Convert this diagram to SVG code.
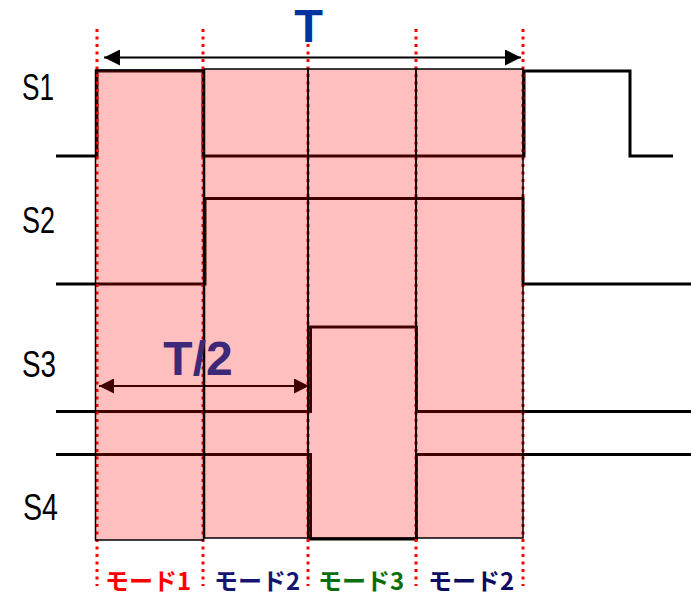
<svg xmlns="http://www.w3.org/2000/svg" width="691" height="597" viewBox="0 0 691 597">
<defs>
<style>
.wave{fill:none;stroke:#000;stroke-width:3;stroke-linejoin:miter}
.col{fill:#ff0000;fill-opacity:0.25;stroke:#000;stroke-width:1.5}
.dot{stroke:#ff0000;stroke-width:3;stroke-dasharray:3 4.5}
.arr{stroke-width:2;fill:none}
.sl{font-family:"Liberation Sans",Arial,sans-serif;font-size:37px;fill:#000}
.mode{font-family:"Noto Sans CJK JP","Liberation Sans",sans-serif;font-size:24px;font-weight:bold;text-anchor:middle}
.big{font-family:"Liberation Sans",Arial,sans-serif;font-weight:bold;text-anchor:middle}
</style>
<marker id="ahk" viewBox="0 0 16 16" refX="16" refY="8" markerWidth="16" markerHeight="16" markerUnits="userSpaceOnUse" orient="auto-start-reverse"><path d="M0,0 L16,8 L0,16 Z" fill="#000"/></marker>
<marker id="ahr" viewBox="0 0 15 15" refX="15" refY="7.5" markerWidth="15" markerHeight="15" markerUnits="userSpaceOnUse" orient="auto-start-reverse"><path d="M0,0 L15,7.5 L0,15 Z" fill="#000"/></marker>
</defs>
<g id="labels-signal">
<text class="sl" x="22" y="100" textLength="32" lengthAdjust="spacingAndGlyphs">S1</text>
<text class="sl" x="22" y="233" textLength="33" lengthAdjust="spacingAndGlyphs">S2</text>
<text class="sl" x="22" y="377" textLength="34" lengthAdjust="spacingAndGlyphs">S3</text>
<text class="sl" x="23" y="520" textLength="35" lengthAdjust="spacingAndGlyphs">S4</text>
</g>
<g id="connectors">
<path id="S1-wave" class="wave" d="M56,156 H97 V71 H203 V156 H524 V71 H630 V156 H673"/>
<path id="S2-wave" class="wave" d="M56,284 H205 V198.5 H523 V284 H691"/>
<path id="S3-wave" class="wave" d="M56,411.5 H310.5 V327 H416.5 V411.5 H691"/>
<path id="S4-wave" class="wave" d="M56,454.5 H310.5 V539 H416.5 V454.5 H691"/>
<line id="half-arrow" class="arr" x1="99" y1="386" x2="309" y2="386" stroke="#000" marker-start="url(#ahr)" marker-end="url(#ahr)"/>
<g id="guides">
<line class="dot" x1="97" y1="29" x2="97" y2="586"/>
<line class="dot" x1="203" y1="29" x2="203" y2="586"/>
<line class="dot" x1="308" y1="29" x2="308" y2="586"/>
<line class="dot" x1="416" y1="29" x2="416" y2="586"/>
<line class="dot" x1="523" y1="29" x2="523" y2="586"/>
</g>
</g>
<g id="mode-cols">
<rect id="col1" class="col" x="95.5" y="70" width="108" height="470"/>
<rect id="col2" class="col" x="204.5" y="69" width="103.5" height="469"/>
<rect id="col3" class="col" x="308" y="69" width="108" height="469"/>
<rect id="col4" class="col" x="416" y="69" width="107" height="469"/>
</g>
<g id="period-arrow">
<line class="arr" x1="104" y1="57.5" x2="521" y2="57.5" stroke="#000" marker-start="url(#ahk)" marker-end="url(#ahk)"/>
</g>
<g id="label-T"><text class="big" x="308.5" y="42" font-size="47" fill="#0033a0">T</text></g>
<g id="label-T2"><text class="big" x="198" y="375" font-size="48" fill="#3c2a78">T/2</text></g>
<g id="labels-mode">
<text class="mode" x="148" y="590" fill="#ff0000">モード1</text>
<text class="mode" x="257" y="590" fill="#161670">モード2</text>
<text class="mode" x="361" y="590" fill="#0b6e0b">モード3</text>
<text class="mode" x="471" y="590" fill="#0c0c60">モード2</text>
</g>
</svg>
